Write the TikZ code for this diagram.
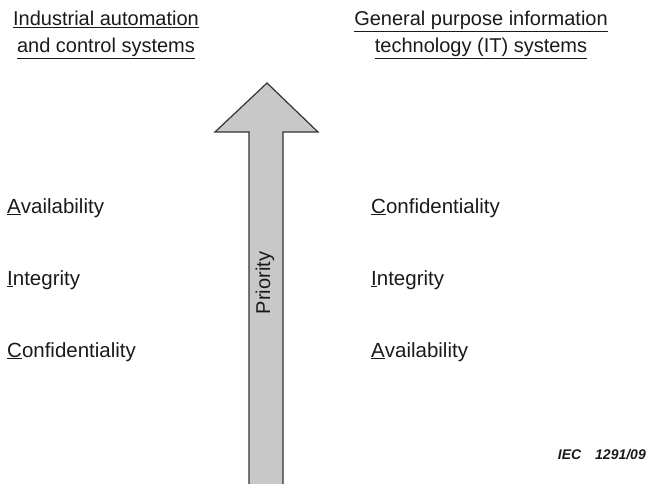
\documentclass[tikz,border=0pt]{standalone}
\usepackage{fontspec}
\setmainfont{Liberation Sans}
\usepackage{tikz}
\definecolor{myarrowcolor}{HTML}{C8C8C8}
\definecolor{mytextcolor}{HTML}{1A1A1A}

\begin{document}
\begin{tikzpicture}[x=1pt, y=-1pt,
  ciatext/.style={anchor=base west, inner sep=0pt, text=mytextcolor, font=\fontsize{20.5pt}{24pt}\selectfont},
  headtext/.style={align=center, inner sep=0pt, text=mytextcolor, font=\fontsize{20pt}{27pt}\selectfont}]%
\useasboundingbox (0,0) rectangle (654,483);%
% priority arrow
\coordinate (tip) at (267,83);%
\filldraw[fill=myarrowcolor, draw=black!80, line width=1.2pt] (249,490) -- (249,132) -- (215,132) -- (tip) -- (318,132) -- (283,132) -- (283,490);%
\node[rotate=90, inner sep=0pt, text=mytextcolor, font=\fontsize{20pt}{24pt}\selectfont] (priority) at (265,283) {Priority};%
% column headings
\node[headtext] (iacs) at (106,35) {\underline{Industrial automation}\\\underline{and control systems}};%
\node[headtext] (itsys) at (481,35) {\underline{General purpose information}\\\underline{technology (IT) systems}};%
% left column
\node[ciatext] (iacsA) at (7,213) {\underline{A}vailability};%
\node[ciatext] (iacsI) at (7,285) {\underline{I}ntegrity};%
\node[ciatext] (iacsC) at (7,357) {\underline{C}onfidentiality};%
% right column
\node[ciatext] (itC) at (371,213) {\underline{C}onfidentiality};%
\node[ciatext] (itI) at (371,285) {\underline{I}ntegrity};%
\node[ciatext] (itA) at (371,357) {\underline{A}vailability};%
\node[anchor=base east, inner sep=0pt, text=mytextcolor, font=\fontsize{14pt}{16pt}\selectfont\bfseries\itshape] (iec) at (646,459) {IEC\hspace{1em}1291/09};%
\end{tikzpicture}
\end{document}
